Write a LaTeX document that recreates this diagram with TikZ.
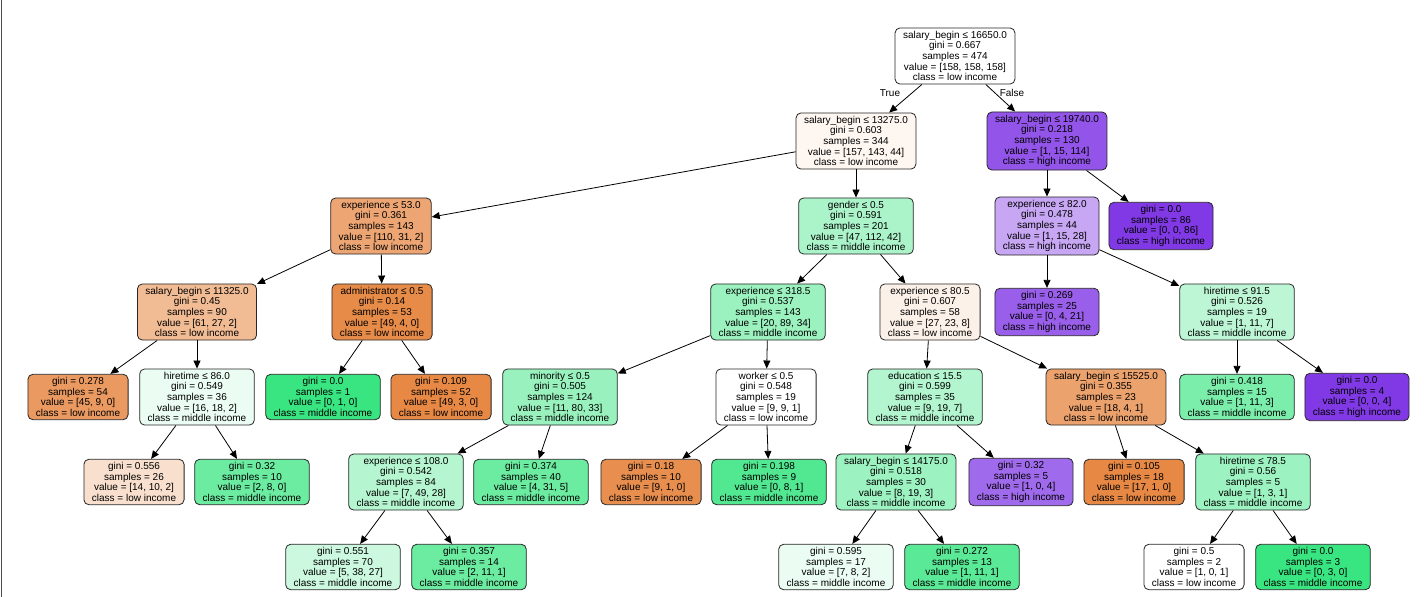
\documentclass[tikz,border=0pt]{standalone}
\usepackage{fontspec}
\setmainfont{Liberation Sans}
\usetikzlibrary{arrows.meta}
\definecolor{lowA}{HTML}{FDF6F1}
\definecolor{lowB}{HTML}{EDA673}
\definecolor{lowC}{HTML}{F1BB94}
\definecolor{lowD}{HTML}{E78B49}
\definecolor{lowE}{HTML}{FCF1E8}
\definecolor{lowF}{HTML}{EA9A61}
\definecolor{lowG}{HTML}{E78945}
\definecolor{lowH}{HTML}{ECA26D}
\definecolor{lowI}{HTML}{F9E0CE}
\definecolor{lowJ}{HTML}{E88F4F}
\definecolor{midA}{HTML}{ABF4CA}
\definecolor{midB}{HTML}{9BF2BF}
\definecolor{midC}{HTML}{BDF6D5}
\definecolor{midD}{HTML}{EBFCF2}
\definecolor{midE}{HTML}{39E581}
\definecolor{midF}{HTML}{99F2BE}
\definecolor{midG}{HTML}{B3F5CF}
\definecolor{midH}{HTML}{7BEEAB}
\definecolor{midI}{HTML}{6BECA1}
\definecolor{midJ}{HTML}{B5F5D0}
\definecolor{midK}{HTML}{52E891}
\definecolor{midL}{HTML}{9CF2C0}
\definecolor{midM}{HTML}{CCF8DF}
\definecolor{midN}{HTML}{5AE996}
\definecolor{highA}{HTML}{9355E9}
\definecolor{highB}{HTML}{C7A6F3}
\definecolor{highC}{HTML}{8139E5}
\definecolor{highD}{HTML}{995FEA}
\definecolor{highE}{HTML}{A06AEC}
\begin{document}
\begin{tikzpicture}[x=1pt,y=-1pt,
  box/.style={draw=black!85,line width=0.8pt,rounded corners=5pt,align=center,inner xsep=8pt,inner ysep=3pt,
    font=\fontsize{10}{10.7}\selectfont},
  edge/.style={-{Triangle[length=8pt,width=7pt]},line width=0.8pt},
  tf/.style={font=\fontsize{10}{10.7}\selectfont}]
\useasboundingbox (0,0) rectangle (1427,597);
\draw[line width=1.5pt,black!70] (1.5,0) -- (1.5,597);
\node[box,fill=white] (root) at (955,56) {salary\_begin ≤ 16650.0\\gini = 0.667\\samples = 474\\value = [158, 158, 158]\\class = low income};
\node[box,fill=lowA] (L) at (856,141) {salary\_begin ≤ 13275.0\\gini = 0.603\\samples = 344\\value = [157, 143, 44]\\class = low income};
\node[box,fill=highA] (R) at (1047,141) {salary\_begin ≤ 19740.0\\gini = 0.218\\samples = 130\\value = [1, 15, 114]\\class = high income};
\node[box,fill=lowB] (LL) at (381,226) {experience ≤ 53.0\\gini = 0.361\\samples = 143\\value = [110, 31, 2]\\class = low income};
\node[box,fill=midA] (LR) at (856,226) {gender ≤ 0.5\\gini = 0.591\\samples = 201\\value = [47, 112, 42]\\class = middle income};
\node[box,fill=highB] (RL) at (1047,226) {experience ≤ 82.0\\gini = 0.478\\samples = 44\\value = [1, 15, 28]\\class = high income};
\node[box,fill=highC] (RR) at (1161,226) {gini = 0.0\\samples = 86\\value = [0, 0, 86]\\class = high income};
\node[box,fill=lowC] (LLL) at (197,312) {salary\_begin ≤ 11325.0\\gini = 0.45\\samples = 90\\value = [61, 27, 2]\\class = low income};
\node[box,fill=lowD] (LLR) at (382,312) {administrator ≤ 0.5\\gini = 0.14\\samples = 53\\value = [49, 4, 0]\\class = low income};
\node[box,fill=midB] (LRL) at (768,312) {experience ≤ 318.5\\gini = 0.537\\samples = 143\\value = [20, 89, 34]\\class = middle income};
\node[box,fill=lowE] (LRR) at (930,312) {experience ≤ 80.5\\gini = 0.607\\samples = 58\\value = [27, 23, 8]\\class = low income};
\node[box,fill=highD] (RLL) at (1047,312) {gini = 0.269\\samples = 25\\value = [0, 4, 21]\\class = high income};
\node[box,fill=midC] (RLR) at (1237,312) {hiretime ≤ 91.5\\gini = 0.526\\samples = 19\\value = [1, 11, 7]\\class = middle income};
\node[box,fill=lowF] (LLLL) at (78,397) {gini = 0.278\\samples = 54\\value = [45, 9, 0]\\class = low income};
\node[box,fill=midD] (LLLR) at (197,397) {hiretime ≤ 86.0\\gini = 0.549\\samples = 36\\value = [16, 18, 2]\\class = middle income};
\node[box,fill=midE] (LLRL) at (323,397) {gini = 0.0\\samples = 1\\value = [0, 1, 0]\\class = middle income};
\node[box,fill=lowG] (LLRR) at (441,397) {gini = 0.109\\samples = 52\\value = [49, 3, 0]\\class = low income};
\node[box,fill=midF] (LRLL) at (560,397) {minority ≤ 0.5\\gini = 0.505\\samples = 124\\value = [11, 80, 33]\\class = middle income};
\node[box,fill=white] (LRLR) at (766,397) {worker ≤ 0.5\\gini = 0.548\\samples = 19\\value = [9, 9, 1]\\class = low income};
\node[box,fill=midG] (LRRL) at (925,397) {education ≤ 15.5\\gini = 0.599\\samples = 35\\value = [9, 19, 7]\\class = middle income};
\node[box,fill=lowH] (LRRR) at (1106,397) {salary\_begin ≤ 15525.0\\gini = 0.355\\samples = 23\\value = [18, 4, 1]\\class = low income};
\node[box,fill=midH] (RLRL) at (1237,397) {gini = 0.418\\samples = 15\\value = [1, 11, 3]\\class = middle income};
\node[box,fill=highC] (RLRR) at (1357,397) {gini = 0.0\\samples = 4\\value = [0, 0, 4]\\class = high income};
\node[box,fill=lowI] (LLLRL) at (134,482) {gini = 0.556\\samples = 26\\value = [14, 10, 2]\\class = low income};
\node[box,fill=midI] (LLLRR) at (252,482) {gini = 0.32\\samples = 10\\value = [2, 8, 0]\\class = middle income};
\node[box,fill=midJ] (LRLLL) at (406,482) {experience ≤ 108.0\\gini = 0.542\\samples = 84\\value = [7, 49, 28]\\class = middle income};
\node[box,fill=midI] (LRLLR) at (531,482) {gini = 0.374\\samples = 40\\value = [4, 31, 5]\\class = middle income};
\node[box,fill=lowJ] (LRLRL) at (651,482) {gini = 0.18\\samples = 10\\value = [9, 1, 0]\\class = low income};
\node[box,fill=midK] (LRLRR) at (769,482) {gini = 0.198\\samples = 9\\value = [0, 8, 1]\\class = middle income};
\node[box,fill=midL] (LRRLL) at (896,482) {salary\_begin ≤ 14175.0\\gini = 0.518\\samples = 30\\value = [8, 19, 3]\\class = middle income};
\node[box,fill=highE] (LRRLR) at (1021,482) {gini = 0.32\\samples = 5\\value = [1, 0, 4]\\class = high income};
\node[box,fill=lowG] (LRRRL) at (1134,482) {gini = 0.105\\samples = 18\\value = [17, 1, 0]\\class = low income};
\node[box,fill=midL] (LRRRR) at (1253,482) {hiretime ≤ 78.5\\gini = 0.56\\samples = 5\\value = [1, 3, 1]\\class = middle income};
\node[box,fill=midM] (LRLLLL) at (343,567) {gini = 0.551\\samples = 70\\value = [5, 38, 27]\\class = middle income};
\node[box,fill=midI] (LRLLLR) at (469,567) {gini = 0.357\\samples = 14\\value = [2, 11, 1]\\class = middle income};
\node[box,fill=midD] (LRRLLL) at (836,567) {gini = 0.595\\samples = 17\\value = [7, 8, 2]\\class = middle income};
\node[box,fill=midN] (LRRLLR) at (962,567) {gini = 0.272\\samples = 13\\value = [1, 11, 1]\\class = middle income};
\node[box,fill=white] (LRRRRL) at (1194,567) {gini = 0.5\\samples = 2\\value = [1, 0, 1]\\class = low income};
\node[box,fill=midE] (LRRRRR) at (1313,567) {gini = 0.0\\samples = 3\\value = [0, 3, 0]\\class = middle income};
\foreach \a/\b in {root/L,root/R,L/LL,L/LR,R/RL,R/RR,LL/LLL,LL/LLR,LR/LRL,LR/LRR,RL/RLL,RL/RLR,
  LLL/LLLL,LLL/LLLR,LLR/LLRL,LLR/LLRR,LRL/LRLL,LRL/LRLR,LRR/LRRL,LRR/LRRR,RLR/RLRL,RLR/RLRR,
  LLLR/LLLRL,LLLR/LLLRR,LRLL/LRLLL,LRLL/LRLLR,LRLR/LRLRL,LRLR/LRLRR,LRRL/LRRLL,LRRL/LRRLR,
  LRRR/LRRRL,LRRR/LRRRR,LRLLL/LRLLLL,LRLLL/LRLLLR,LRRLL/LRRLLL,LRRLL/LRRLLR,LRRRR/LRRRRL,LRRRR/LRRRRR}
  \draw[edge] (\a) -- (\b);
\node[tf] (true) at (890,93) {True};
\node[tf] (false) at (1012,93) {False};
\end{tikzpicture}
\end{document}
